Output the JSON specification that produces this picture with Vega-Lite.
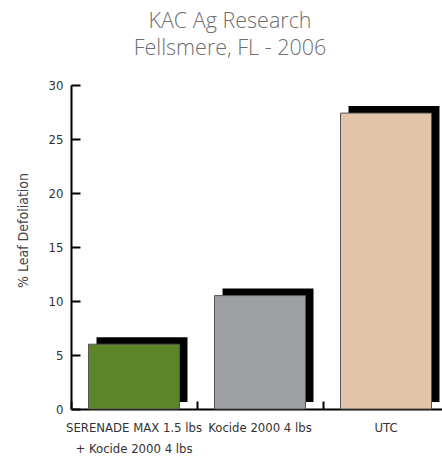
{
  "$schema": "https://vega.github.io/schema/vega-lite/v6.json",
  "autosize": {"type": "none"},
  "padding": {"left": 71, "top": 85, "right": 0, "bottom": 50},
  "width": 371,
  "height": 324,
  "background": "white",
  "title": {
    "text": ["KAC Ag Research", "Fellsmere, FL - 2006"],
    "font": "Open Sans",
    "fontWeight": 300,
    "fontSize": 21.5,
    "lineHeight": 27,
    "color": "#6d6e71",
    "anchor": "middle",
    "frame": "group",
    "dx": -26.5,
    "offset": 20
  },
  "data": {
    "values": [
      {"treatment": "SERENADE MAX 1.5 lbs + Kocide 2000 4 lbs", "defoliation": 6.0},
      {"treatment": "Kocide 2000 4 lbs", "defoliation": 10.5},
      {"treatment": "UTC", "defoliation": 27.4}
    ]
  },
  "layer": [
    {
      "mark": {"type": "bar", "color": "black", "xOffset": 8, "x2Offset": 8, "yOffset": -7, "y2Offset": -7, "width": {"band": 0.722}},
      "encoding": {
        "x": {
          "field": "treatment",
          "type": "nominal",
          "sort": null,
          "scale": {"range": [0, 378], "paddingInner": 0, "paddingOuter": 0},
          "axis": {
            "title": null,
            "orient": "bottom",
            "offset": -8,
            "domain": false,
            "labels": false,
            "grid": false,
            "ticks": true,
            "tickColor": "black",
            "tickWidth": 2,
            "tickSize": 8,
            "tickBand": "extent"
          }
        },
        "y": {
          "field": "defoliation",
          "type": "quantitative",
          "scale": {"domain": [0, 30], "nice": false},
          "axis": {
            "title": null,
            "orient": "left",
            "offset": -9,
            "values": [0, 5, 10, 15, 20, 25, 30],
            "domain": false,
            "labels": false,
            "grid": false,
            "ticks": true,
            "tickColor": "black",
            "tickWidth": 2,
            "tickSize": 9
          }
        }
      }
    },
    {
      "mark": {"type": "bar", "stroke": "#555555", "strokeWidth": 1, "width": {"band": 0.722}},
      "encoding": {
        "x": {
          "field": "treatment",
          "type": "nominal",
          "sort": null,
          "axis": {
            "title": null,
            "orient": "bottom",
            "labelAngle": 0,
            "labelFont": "DejaVu Sans Condensed",
            "labelFontSize": 13,
            "labelColor": "#333333",
            "labelPadding": 12,
            "labelLineHeight": 21,
            "labelExpr": "indexof(datum.label, ' + ') > 0 ? [substring(datum.label, 0, indexof(datum.label, ' + ')), substring(datum.label, indexof(datum.label, ' + ') + 1)] : datum.label",
            "domainColor": "black",
            "domainWidth": 2,
            "ticks": false,
            "grid": false
          }
        },
        "y": {
          "field": "defoliation",
          "type": "quantitative",
          "axis": {
            "title": "% Leaf Defoliation",
            "orient": "left",
            "titleFont": "DejaVu Sans Condensed",
            "titleFontSize": 14,
            "titleFontWeight": "normal",
            "titleColor": "#444444",
            "titleX": -48,
            "titleY": 145,
            "titleAngle": -90,
            "titleAlign": "center",
            "titleBaseline": "middle",
            "values": [0, 5, 10, 15, 20, 25, 30],
            "labelFont": "DejaVu Sans Condensed",
            "labelFontSize": 13,
            "labelColor": "#333333",
            "labelPadding": 8,
            "domainColor": "black",
            "domainWidth": 2,
            "ticks": false,
            "grid": false
          }
        },
        "color": {
          "field": "treatment",
          "type": "nominal",
          "sort": null,
          "scale": {"range": ["#5c8527", "#9d9fa2", "#e2c4a8"]},
          "legend": null
        }
      }
    }
  ],
  "resolve": {"axis": {"x": "independent", "y": "independent"}},
  "config": {"view": {"stroke": null}, "axis": {"zindex": 1}}
}
